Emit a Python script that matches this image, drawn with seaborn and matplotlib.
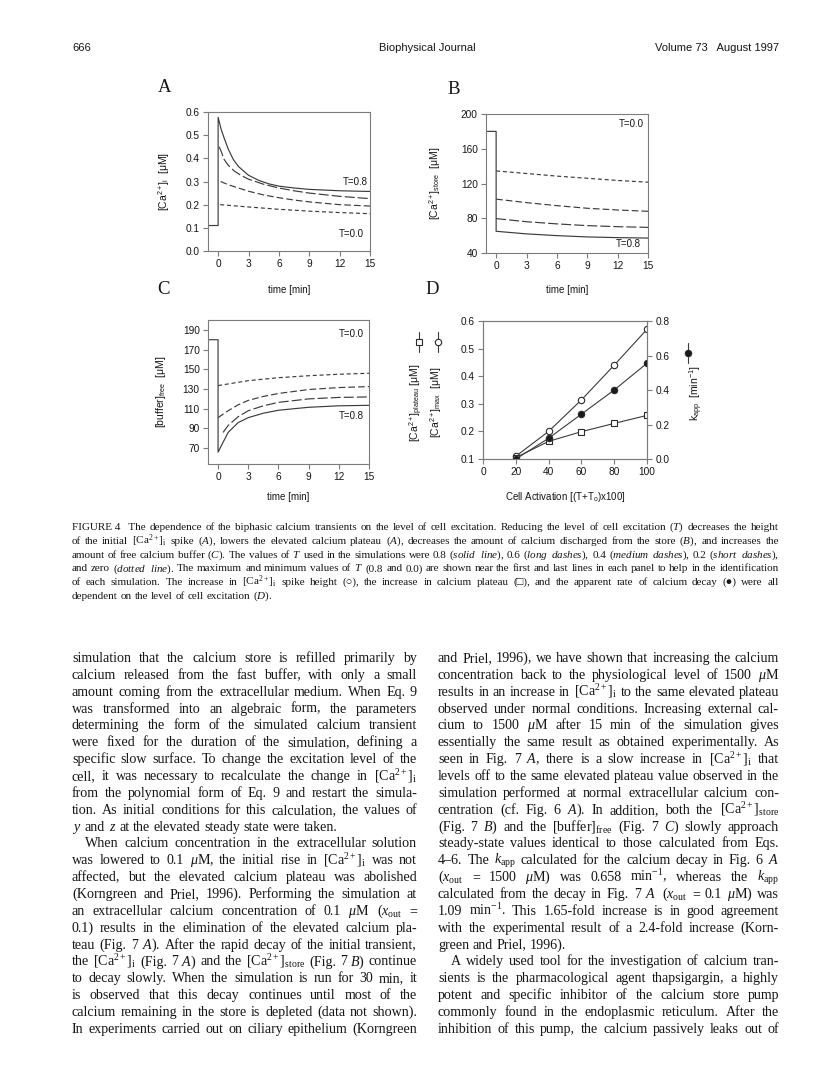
import numpy as np
import pandas as pd
import matplotlib
matplotlib.use('Agg')
from matplotlib import pyplot as plt
from matplotlib.lines import Line2D
from matplotlib.transforms import IdentityTransform
import seaborn as sns

W, H = 816, 1076

# ---- panel A: [Ca2+]i (uM) vs time (min) ----
base_t = [-1.0, 0.0]
a_base = [0.11, 0.11]
a_t08 = [0.0, 0.3, 0.6, 1.0, 1.5, 2.0, 3.0, 4.0, 5.0, 6.0, 7.5, 9.0, 12.0, 15.0]
a_v08 = [0.577, 0.525, 0.487, 0.44, 0.395, 0.365, 0.327, 0.305, 0.29, 0.28, 0.272, 0.266, 0.26, 0.257]
a_t06 = [0.1, 0.3, 0.6, 1.0, 1.6, 2.2, 3.0, 4.5, 6.0, 7.5, 9.0, 12.0, 15.0]
a_v06 = [0.45, 0.43, 0.395, 0.37, 0.345, 0.328, 0.31, 0.288, 0.272, 0.26, 0.25, 0.236, 0.226]
a_t04 = [0.25, 1.0, 2.0, 3.0, 4.5, 6.0, 7.5, 9.0, 12.0, 15.0]
a_v04 = [0.30, 0.286, 0.272, 0.258, 0.242, 0.23, 0.22, 0.212, 0.2, 0.194]
a_t02 = [0.2, 3.0, 6.0, 9.0, 12.0, 15.0]
a_v02 = [0.2, 0.19, 0.18, 0.172, 0.166, 0.161]

# ---- panel B: [Ca2+]store (uM) ----
b_base = [180.0, 180.0]
b_t08 = [0.0, 3.0, 6.0, 9.0, 12.0, 15.0]
b_v08 = [65.0, 62.0, 60.0, 58.5, 57.7, 57.2]
b_t06 = [0.0, 3.0, 6.0, 9.0, 12.0, 15.0]
b_v06 = [79.6, 76.0, 73.5, 71.5, 70.3, 69.5]
b_t04 = [0.0, 3.0, 6.0, 9.0, 12.0, 15.0]
b_v04 = [102.0, 98.0, 94.5, 91.5, 89.5, 88.0]
b_t02 = [0.0, 3.0, 6.0, 9.0, 12.0, 15.0]
b_v02 = [134.5, 131.5, 128.5, 126.0, 123.5, 121.5]

# ---- panel C: [buffer]free (uM) ----
c_base = [180.0, 180.0]
c_t08 = [0.0, 0.5, 1.0, 2.0, 3.0, 4.5, 6.0, 9.0, 12.0, 15.0]
c_v08 = [66.0, 76.0, 86.0, 96.0, 101.0, 105.5, 108.5, 111.5, 113.0, 113.5]
c_t06 = [0.5, 1.0, 2.0, 3.0, 4.5, 6.0, 9.0, 12.0, 15.0]
c_v06 = [86.0, 93.0, 102.0, 108.0, 113.0, 116.5, 120.0, 121.5, 122.0]
c_t04 = [0.0, 1.0, 2.0, 3.0, 4.5, 6.0, 9.0, 12.0, 15.0]
c_v04 = [101.0, 108.0, 114.0, 118.5, 122.5, 125.5, 129.5, 131.5, 132.5]
c_t02 = [0.0, 3.0, 6.0, 9.0, 12.0, 15.0]
c_v02 = [133.5, 138.5, 141.5, 143.5, 145.0, 146.0]

# ---- panel D: values vs cell activation ----
activation = [20, 40, 60, 80, 100]
ca_max = [0.11, 0.20, 0.314, 0.44, 0.57]
ca_plateau = [0.105, 0.164, 0.199, 0.229, 0.258]
k_app = [0.0, 0.12, 0.26, 0.40, 0.555]

levels = ['0.8', '0.6', '0.4', '0.2']
dash_map = {'0.8': '', '0.6': (7.2, 2.2), '0.4': (4.8, 2.2), '0.2': (2.9, 2.0)}

sns.set_style('ticks')
plt.rcParams['font.family'] = ['Liberation Sans', 'DejaVu Sans']
plt.rcParams['mathtext.fontset'] = 'custom'
plt.rcParams['mathtext.rm'] = 'Liberation Serif'
plt.rcParams['mathtext.it'] = 'Liberation Serif:italic'
plt.rcParams['mathtext.bf'] = 'Liberation Serif:bold'
plt.rcParams['mathtext.sf'] = 'Liberation Sans'
plt.rcParams['lines.scale_dashes'] = False

line_col = '#3c3c3c'
frame_col = '#7c7c7c'
ink = '#161616'
serif = ['Liberation Serif', 'DejaVu Sans']

fig = plt.figure(figsize=(W / 100, H / 100), dpi=100)
fig.patch.set_facecolor('white')


def axes_at(l, t, r, b):
    return fig.add_axes([l / W, 1 - b / H, (r - l) / W, (b - t) / H])


def curves(ts, vs):
    rows = []
    for lev, t, v in zip(levels, ts, vs):
        rows += [{'T': lev, 't': a, 'v': b} for a, b in zip(t, v)]
    return pd.DataFrame(rows)


def style_axes(ax):
    for sp in ax.spines.values():
        sp.set_color(frame_col)
        sp.set_linewidth(0.8)
    ax.tick_params(color=frame_col, width=0.8, length=3.5, labelsize=7.3,
                   labelcolor=ink, pad=2.5)


def time_panel(ax, df, ylim, yticks, ylabel, ylx, xly):
    sns.lineplot(data=df, x='t', y='v', style='T', style_order=levels,
                 dashes=dash_map, color=line_col, lw=0.85, estimator=None,
                 sort=False, legend=False, ax=ax)
    ax.set_xlim(-1, 15)
    ax.set_xticks([0, 3, 6, 9, 12, 15])
    ax.set_ylim(*ylim)
    ax.set_yticks(yticks)
    ax.set_xlabel('time [min]', fontsize=7, color=ink, va='center')
    ax.set_ylabel(ylabel, fontsize=7.5, color=ink, va='center')
    ax.xaxis.set_label_coords(0.5, xly)
    ax.yaxis.set_label_coords(ylx, 0.5)
    style_axes(ax)


# panel A
axA = axes_at(208, 112, 370, 251)
dfA = curves([base_t + a_t08, a_t06, a_t04, a_t02],
             [a_base + a_v08, a_v06, a_v04, a_v02])
time_panel(axA, dfA, (0, 0.6), np.arange(0, 0.61, 0.1),
           r'[Ca$^{\mathsf{2+}}$]$_{\mathsf{i}}$  [μM]', -0.27, -0.28)
axA.set_yticklabels(['0.0', '0.1', '0.2', '0.3', '0.4', '0.5', '0.6'])
axA.text(14.8, 0.297, 'T=0.8', ha='right', va='center', fontsize=7, color=ink)
axA.text(14.4, 0.072, 'T=0.0', ha='right', va='center', fontsize=7, color=ink)

# panel B
axB = axes_at(486, 114, 648, 253)
dfB = curves([base_t + b_t08, b_t06, b_t04, b_t02],
             [b_base + b_v08, b_v06, b_v04, b_v02])
time_panel(axB, dfB, (40, 200), [40, 80, 120, 160, 200],
           r'[Ca$^{\mathsf{2+}}$]$_{\mathsf{store}}$  [μM]', -0.315, -0.266)
axB.text(14.6, 189, 'T=0.0', ha='right', va='center', fontsize=7, color=ink)
axB.text(14.3, 50, 'T=0.8', ha='right', va='center', fontsize=7, color=ink)

# panel C
axC = axes_at(208, 320, 369, 464)
dfC = curves([base_t + c_t08, c_t06, c_t04, c_t02],
             [c_base + c_v08, c_v06, c_v04, c_v02])
time_panel(axC, dfC, (54, 200), [70, 90, 110, 130, 150, 170, 190],
           r'[buffer]$_{\mathsf{free}}$  [μM]', -0.29, -0.23)
axC.text(14.5, 186, 'T=0.0', ha='right', va='center', fontsize=7, color=ink)
axC.text(14.5, 103, 'T=0.8', ha='right', va='center', fontsize=7, color=ink)

# panel D
axD = axes_at(483, 321, 647, 459)
mk = dict(markersize=4.6, markeredgewidth=0.8, markeredgecolor='#2a2a2a')
sns.lineplot(x=activation, y=ca_max, color=line_col, lw=0.8, marker='o',
             markerfacecolor='white', ax=axD, **mk)
sns.lineplot(x=activation, y=ca_plateau, color=line_col, lw=0.8, marker='s',
             markerfacecolor='white', ax=axD, **mk)
axD.set_xlim(0, 100)
axD.set_xticks([0, 20, 40, 60, 80, 100])
axD.set_ylim(0.1, 0.6)
axD.set_yticks([0.1, 0.2, 0.3, 0.4, 0.5, 0.6])
axD.set_ylabel('')
axD.set_xlabel(r'Cell Activation [(T+T$_{\mathsf{o}}$)x100]', fontsize=7,
               color=ink, va='center')
axD.xaxis.set_label_coords(0.5, -0.275)
style_axes(axD)
axK = axD.twinx()
sns.lineplot(x=activation, y=k_app, color=line_col, lw=0.8, marker='o',
             markerfacecolor='#1a1a1a', ax=axK, **mk)
axK.set_ylim(0.0, 0.8)
axK.set_yticks([0.0, 0.2, 0.4, 0.6, 0.8])
axK.set_ylabel(r'k$_{\mathsf{app}}$  [min$^{\mathsf{-1}}$]', fontsize=7.5,
               color=ink, va='center', rotation=90)
axK.yaxis.set_label_coords(1.3, 0.48)
style_axes(axK)

# D axis labels on the left, each with its symbol
fig.text(416 / W, 1 - 403 / H, r'[Ca$^{\mathsf{2+}}$]$_{\mathsf{plateau}}$ [μM]',
         rotation=90, ha='center', va='center', fontsize=7.5, color=ink)
fig.text(436 / W, 1 - 402 / H, r'[Ca$^{\mathsf{2+}}$]$_{\mathsf{max}}$  [μM]',
         rotation=90, ha='center', va='center', fontsize=7.5, color=ink)
ident = IdentityTransform()
for x, y, m, fc in [(419, 342, 's', 'white'), (438, 342, 'o', 'white'),
                    (688, 353, 'o', '#1a1a1a')]:
    fig.add_artist(Line2D([x, x, x], [H - y + 10, H - y, H - y - 10],
                          transform=ident, color=line_col, lw=0.8,
                          marker=m, markevery=[1], markerfacecolor=fc, **mk))

# panel letters
for s, x, y in [('A', 165, 88), ('B', 454, 90), ('C', 164, 290), ('D', 432, 290)]:
    fig.text(x / W, 1 - y / H, s, family='Liberation Serif', fontsize=13.5,
             ha='center', va='center', color=ink)

# page header
fig.text(72 / W, 1 - 51 / H, '666', fontsize=8, color=ink, va='baseline')
fig.text(427 / W, 1 - 51 / H, 'Biophysical Journal', fontsize=8, color=ink,
         ha='center', va='baseline')
fig.text(779 / W, 1 - 51 / H, 'Volume 73   August 1997', fontsize=8, color=ink,
         ha='right', va='baseline')

# caption and body text, justified word by word
ci = '[Ca$^{2+}$]$_\\mathrm{i}$'
cs = '[Ca$^{2+}$]$_\\mathrm{store}$'
xo = '$x_\\mathrm{out}$'
ka = '$k_\\mathrm{app}$'

caption = [
    'FIGURE\u00a04\u00a0\u00a0\u00a0The dependence of the biphasic calcium transients on the level of cell excitation. Reducing the level of cell excitation ($\\mathit{T}$) decreases the height',
    'of the initial ' + ci + ' spike ($\\mathit{A}$), lowers the elevated calcium plateau ($\\mathit{A}$), decreases the amount of calcium discharged from the store ($\\mathit{B}$), and increases the',
    'amount of free calcium buffer ($\\mathit{C}$). The values of $\\mathit{T}$ used in the simulations were 0.8 ($\\mathit{solid}$ $\\mathit{line}$), 0.6 ($\\mathit{long}$ $\\mathit{dashes}$), 0.4 ($\\mathit{medium}$ $\\mathit{dashes}$), 0.2 ($\\mathit{short}$ $\\mathit{dashes}$),',
    'and zero ($\\mathit{dotted}$ $\\mathit{line}$). The maximum and minimum values of $\\mathit{T}$ (0.8 and 0.0) are shown near the first and last lines in each panel to help in the identification',
    'of each simulation. The increase in ' + ci + ' spike height (\u25cb), the increase in calcium plateau (\u25a1), and the apparent rate of calcium decay (\u25cf) were all',
    'dependent on the level of cell excitation ($\\mathit{D}$).',
]

# (text, justified, indented)
left_col = [
    ('simulation that the calcium store is refilled primarily by', 1, 0),
    ('calcium released from the fast buffer, with only a small', 1, 0),
    ('amount coming from the extracellular medium. When Eq. 9', 1, 0),
    ('was transformed into an algebraic form, the parameters', 1, 0),
    ('determining the form of the simulated calcium transient', 1, 0),
    ('were fixed for the duration of the simulation, defining a', 1, 0),
    ('specific slow surface. To change the excitation level of the', 1, 0),
    ('cell, it was necessary to recalculate the change in ' + ci, 1, 0),
    ('from the polynomial form of Eq. 9 and restart the simula-', 1, 0),
    ('tion. As initial conditions for this calculation, the values of', 1, 0),
    ('$\\mathit{y}$ and $\\mathit{z}$ at the elevated steady state were taken.', 0, 0),
    ('When calcium concentration in the extracellular solution', 1, 1),
    ('was lowered to 0.1 $\\mu$M, the initial rise in ' + ci + ' was not', 1, 0),
    ('affected, but the elevated calcium plateau was abolished', 1, 0),
    ('(Korngreen and Priel, 1996). Performing the simulation at', 1, 0),
    ('an extracellular calcium concentration of 0.1 $\\mu$M (' + xo + ' =', 1, 0),
    ('0.1) results in the elimination of the elevated calcium pla-', 1, 0),
    ('teau (Fig. 7 $\\mathit{A}$). After the rapid decay of the initial transient,', 1, 0),
    ('the ' + ci + ' (Fig. 7 $\\mathit{A}$) and the ' + cs + ' (Fig. 7 $\\mathit{B}$) continue', 1, 0),
    ('to decay slowly. When the simulation is run for 30 min, it', 1, 0),
    ('is observed that this decay continues until most of the', 1, 0),
    ('calcium remaining in the store is depleted (data not shown).', 1, 0),
    ('In experiments carried out on ciliary epithelium (Korngreen', 1, 0),
]
right_col = [
    ('and Priel, 1996), we have shown that increasing the calcium', 1, 0),
    ('concentration back to the physiological level of 1500 $\\mu$M', 1, 0),
    ('results in an increase in ' + ci + ' to the same elevated plateau', 1, 0),
    ('observed under normal conditions. Increasing external cal-', 1, 0),
    ('cium to 1500 $\\mu$M after 15 min of the simulation gives', 1, 0),
    ('essentially the same result as obtained experimentally. As', 1, 0),
    ('seen in Fig. 7 $\\mathit{A}$, there is a slow increase in ' + ci + ' that', 1, 0),
    ('levels off to the same elevated plateau value observed in the', 1, 0),
    ('simulation performed at normal extracellular calcium con-', 1, 0),
    ('centration (cf. Fig. 6 $\\mathit{A}$). In addition, both the ' + cs, 1, 0),
    ('(Fig. 7 $\\mathit{B}$) and the [buffer]$_\\mathrm{free}$ (Fig. 7 $\\mathit{C}$) slowly approach', 1, 0),
    ('steady-state values identical to those calculated from Eqs.', 1, 0),
    ('4\u20136. The ' + ka + ' calculated for the calcium decay in Fig. 6 $\\mathit{A}$', 1, 0),
    ('(' + xo + ' = 1500 $\\mu$M) was 0.658 min$^{-1}$, whereas the ' + ka, 1, 0),
    ('calculated from the decay in Fig. 7 $\\mathit{A}$ (' + xo + ' = 0.1 $\\mu$M) was', 1, 0),
    ('1.09 min$^{-1}$. This 1.65-fold increase is in good agreement', 1, 0),
    ('with the experimental result of a 2.4-fold increase (Korn-', 1, 0),
    ('green and Priel, 1996).', 0, 0),
    ('A widely used tool for the investigation of calcium tran-', 1, 1),
    ('sients is the pharmacological agent thapsigargin, a highly', 1, 0),
    ('potent and specific inhibitor of the calcium store pump', 1, 0),
    ('commonly found in the endoplasmic reticulum. After the', 1, 0),
    ('inhibition of this pump, the calcium passively leaks out of', 1, 0),
]

renderer = fig.canvas.get_renderer()


def put_line(text, x0, x1, y, size, justify, indent=0.0, family='Liberation Serif'):
    arts = [fig.text(0, 0, w.replace('\u00a0', ' '), fontsize=size, family=family,
                     ha='left', va='baseline', transform=ident, color=ink)
            for w in text.split(' ')]
    widths = [a.get_window_extent(renderer).width for a in arts]
    space = size * 100 / 72 * 0.25
    gap = space
    if justify and len(arts) > 1:
        gap = (x1 - x0 - indent - sum(widths)) / (len(arts) - 1)
        if gap < 0.6 * space:
            # too long for the column at this size: shrink the line a little
            k = (x1 - x0 - indent - 0.6 * space * (len(arts) - 1)) / sum(widths)
            for a in arts:
                a.set_fontsize(size * k)
            widths = [wd * k for wd in widths]
            gap = 0.6 * space
    x = x0 + indent
    for a, wd in zip(arts, widths):
        a.set_position((x, H - y))
        x += wd + gap


for i, line in enumerate(caption):
    put_line(line, 72, 779, 530 + 13.8 * i, 8.0, i < len(caption) - 1,
             family=serif if i == 4 else 'Liberation Serif')

for col, x0, x1 in [(left_col, 72, 417), (right_col, 438, 779)]:
    for i, (text, just, ind) in enumerate(col):
        put_line(text, x0, x1, 662 + 16.86 * i, 10.1, just, 13 * ind)

plt.savefig('out.png', dpi=100, facecolor='white')
